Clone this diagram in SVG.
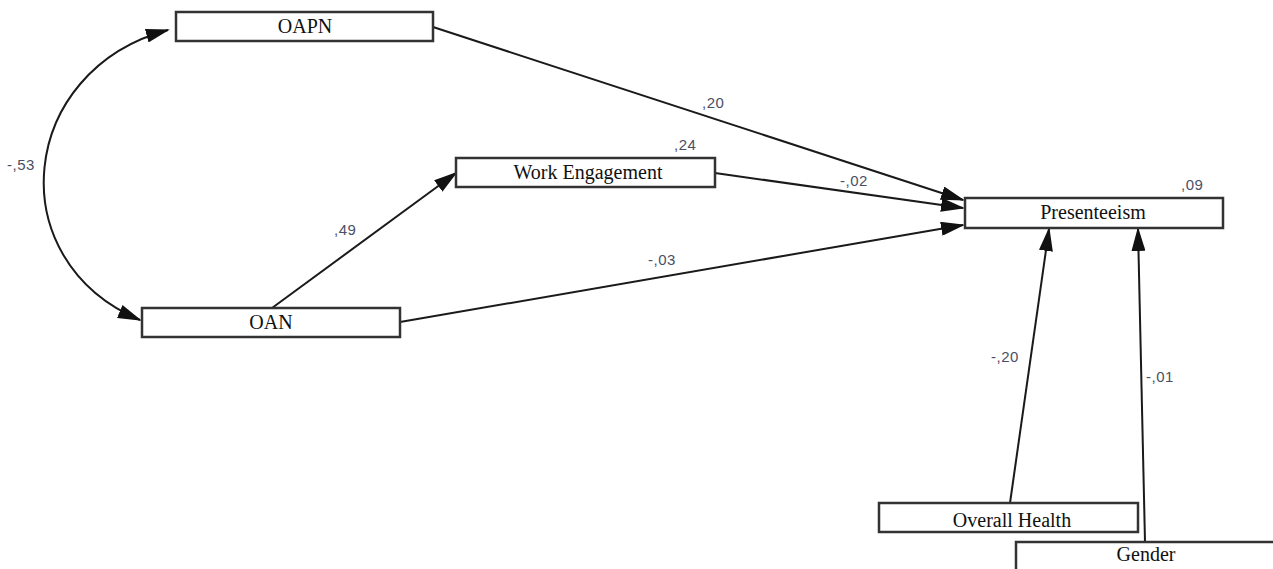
<svg xmlns="http://www.w3.org/2000/svg" width="1273" height="569" viewBox="0 0 1273 569">
<style>
.box{fill:#fff;stroke:#333;stroke-width:2.5}
.lbl{font-family:"Liberation Serif",serif;font-size:20px;fill:#111;text-anchor:middle}
.coef{font-family:"Liberation Sans",sans-serif;font-size:15px;letter-spacing:0.5px;fill:#4a4f66}
.con{fill:none;stroke:#1a1a1a;stroke-width:2}
</style>
<defs>
<marker id="ah" markerUnits="userSpaceOnUse" markerWidth="24" markerHeight="14" refX="22" refY="7" orient="auto-start-reverse" viewBox="0 0 24 14">
<path d="M0,0 L24,7 L0,14 Z" fill="#111"/>
</marker>
</defs>
<rect width="1273" height="569" fill="#fff"/>
<g id="connectors">
<path class="con" d="M168,30 C18,70 -2,260 140,320" marker-start="url(#ah)" marker-end="url(#ah)"/>
<line class="con" x1="433" y1="27" x2="963" y2="200" marker-end="url(#ah)"/>
<line class="con" x1="715" y1="173" x2="963" y2="208" marker-end="url(#ah)"/>
<line class="con" x1="400" y1="322" x2="963" y2="225" marker-end="url(#ah)"/>
<line class="con" x1="272" y1="308" x2="456" y2="173" marker-end="url(#ah)"/>
<line class="con" x1="1010" y1="503" x2="1049" y2="229" marker-end="url(#ah)"/>
<line class="con" x1="1145" y1="542" x2="1138" y2="229" marker-end="url(#ah)"/>
</g>
<g id="coefficients">
<text class="coef" x="7" y="170">-,53</text>
<text class="coef" x="334" y="235">,49</text>
<text class="coef" x="702" y="108">,20</text>
<text class="coef" x="674" y="150">,24</text>
<text class="coef" x="840" y="186">-,02</text>
<text class="coef" x="648" y="265">-,03</text>
<text class="coef" x="1181" y="190">,09</text>
<text class="coef" x="991" y="362">-,20</text>
<text class="coef" x="1146" y="382">-,01</text>
</g>
<g id="node-oapn">
<rect class="box" x="176" y="12" width="257" height="29"/>
<text class="lbl" x="305" y="33">OAPN</text>
</g>
<g id="node-oan">
<rect class="box" x="142" y="308" width="258" height="29"/>
<text class="lbl" x="271" y="329">OAN</text>
</g>
<g id="node-work-engagement">
<rect class="box" x="456" y="158" width="259" height="29"/>
<text class="lbl" x="588" y="179">Work Engagement</text>
</g>
<g id="node-presenteeism">
<rect class="box" x="965" y="198" width="258" height="30"/>
<text class="lbl" x="1093" y="219">Presenteeism</text>
</g>
<g id="node-overall-health">
<rect class="box" x="879" y="503" width="259" height="29"/>
<text class="lbl" x="1012" y="527">Overall Health</text>
</g>
<g id="node-gender">
<rect class="box" x="1016" y="542" width="270" height="40"/>
<text class="lbl" x="1146" y="561">Gender</text>
</g>
</svg>
